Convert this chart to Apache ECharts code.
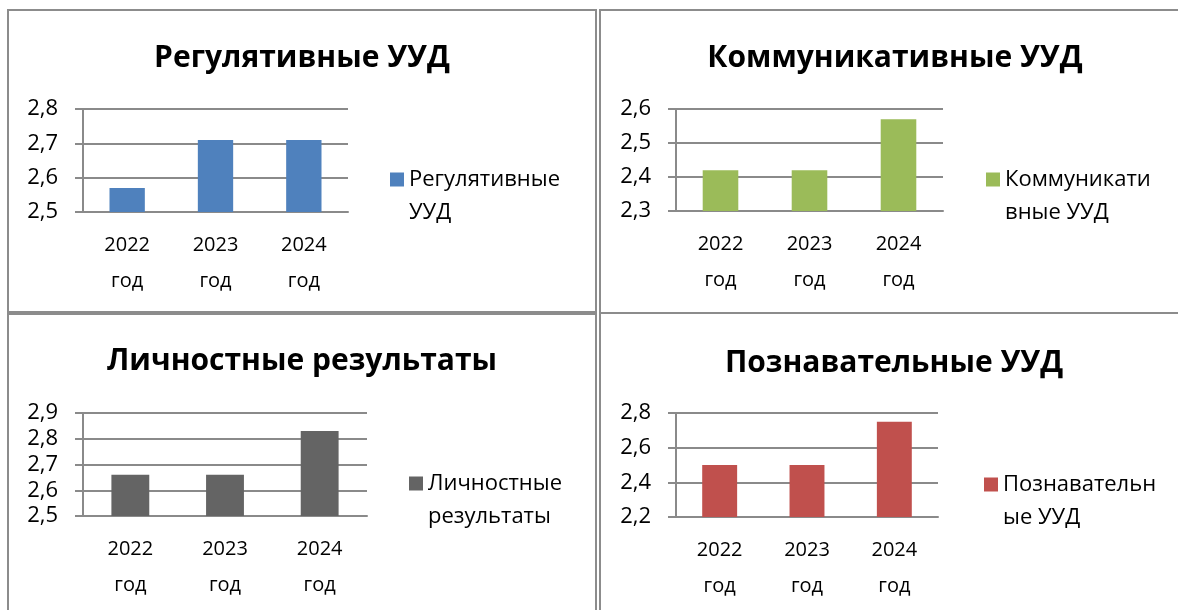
<!DOCTYPE html>
<html>
	<head>
		<meta charset="UTF-8">
		<title>УУД</title>
		<script src="https://cdn.jsdelivr.net/npm/echarts@6/dist/echarts.min.js" type="text/javascript" charset="utf-8"></script>
		<style type="text/css">
			body{
				margin: 0;
				background: white;
			}
			.panel{
				position: absolute;
				box-sizing: border-box;
				border: 2px solid #8c8c8c;
			}
			#main{
				position: absolute;
				left: 0;
				top: 0;
				width: 1178px;
				height: 610px;
			}
		</style>
	</head>
	<body>
		<div class="panel" style="left:7px;top:9px;width:590px;height:304px;"></div>
		<div class="panel" style="left:599px;top:9px;width:600px;height:305px;"></div>
		<div class="panel" style="left:7px;top:313px;width:590px;height:310px;"></div>
		<div class="panel" style="left:599px;top:312px;width:600px;height:310px;"></div>
		<div id="main"></div>
	</body>
</html>
<script type="text/javascript">
	// данные
	var years = ['2022\nгод', '2023\nгод', '2024\nгод']
	var titles = ['Регулятивные УУД', 'Коммуникативные УУД', 'Личностные результаты', 'Познавательные УУД']
	var names = ['Регулятивные\nУУД', 'Коммуникати\nвные УУД', 'Личностные\nрезультаты', 'Познавательн\nые УУД']
	var regul = [2.57, 2.71, 2.71]
	var komm = [2.42, 2.42, 2.57]
	var lichn = [2.66, 2.66, 2.83]
	var pozn = [2.5, 2.5, 2.75]
	var yMin = [2.5, 2.3, 2.5, 2.2]
	var yMax = [2.8, 2.6, 2.9, 2.8]
	var yStep = [0.1, 0.1, 0.1, 0.2]
	var colors = ['#4f81bd', '#9bbb59', '#646464', '#c0504d']
	var values = [regul, komm, lichn, pozn]

	// где что лежит
	var grids = [
		{left: 83, top: 109, width: 265, height: 103},
		{left: 676, top: 109, width: 267, height: 102},
		{left: 83, top: 413, width: 284, height: 103},
		{left: 676, top: 413, width: 262, height: 104}
	]
	var titlePos = [[302, 58], [895, 58], [302, 361], [894, 363]]
	var legendPos = [[390, 179], [986, 179], [409, 483], [984, 484]]

	var font = "'Open Sans', sans-serif"
	var gray = '#8a8a8a'

	var option = {
		animation: false,
		title: [],
		legend: [],
		grid: [],
		xAxis: [],
		yAxis: [],
		series: []
	}

	for (var i = 0; i < 4; i++) {
		option.title.push({
			text: titles[i],
			left: titlePos[i][0],
			top: titlePos[i][1],
			textAlign: 'center',
			textVerticalAlign: 'middle',
			padding: 0,
			textStyle: {fontFamily: font, fontSize: 30, fontWeight: 'bold', color: '#000'}
		})
		// пустая строка сверху, чтобы квадратик стоял у первой строки
		option.legend.push({
			data: [names[i]],
			left: legendPos[i][0],
			top: legendPos[i][1] - 49,
			padding: 0,
			itemWidth: 14,
			itemHeight: 14,
			icon: 'rect',
			selectedMode: false,
			formatter: function (name) { return ' \n' + name },
			textStyle: {fontFamily: font, fontSize: 22, color: '#000', lineHeight: 33}
		})
		option.grid.push({
			left: grids[i].left,
			top: grids[i].top,
			width: grids[i].width,
			height: grids[i].height,
			containLabel: false
		})
		option.xAxis.push({
			type: 'category',
			gridIndex: i,
			data: years,
			axisLine: {lineStyle: {color: gray, width: 2}},
			axisTick: {length: 8, lineStyle: {color: gray, width: 2}},
			axisLabel: {fontFamily: font, fontSize: 20, color: '#000', lineHeight: 36, margin: 15}
		})
		option.yAxis.push({
			type: 'value',
			gridIndex: i,
			min: yMin[i],
			max: yMax[i],
			interval: yStep[i],
			axisLine: {show: true, lineStyle: {color: gray, width: 2}},
			axisTick: {show: true, length: 8, lineStyle: {color: gray, width: 2}},
			splitLine: {lineStyle: {color: gray, width: 2}},
			axisLabel: {
				fontFamily: font, fontSize: 22, color: '#000', margin: 25,
				formatter: function (v) { return v.toFixed(1).replace('.', ',') }
			}
		})
		option.series.push({
			type: 'bar',
			name: names[i],
			xAxisIndex: i,
			yAxisIndex: i,
			data: values[i],
			barWidth: '40%',
			itemStyle: {color: colors[i]}
		})
	}

	var myChart = echarts.init(document.getElementById('main'));
	myChart.setOption(option);
</script>
